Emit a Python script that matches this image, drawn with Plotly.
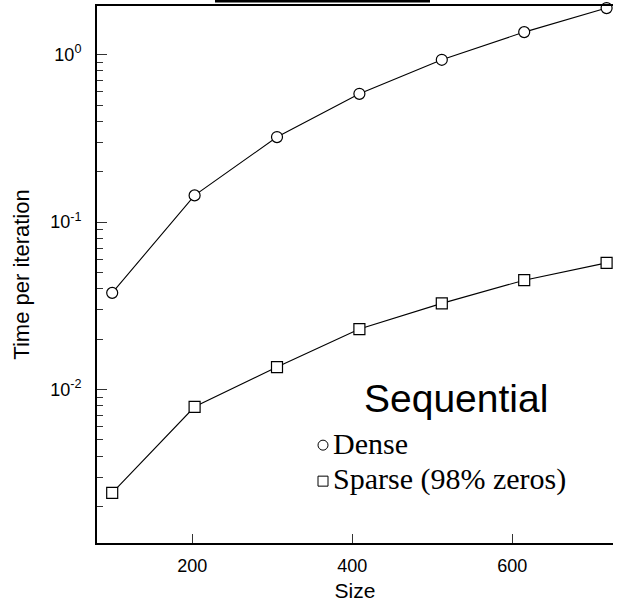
import plotly.graph_objects as go

# Data
sizes = [100, 203, 306, 409, 512, 615, 718]
dense_time = [0.0378, 0.1443, 0.3217, 0.583, 0.931, 1.362, 1.895]
sparse_time = [0.00242, 0.00789, 0.01362, 0.02297, 0.0327, 0.0450, 0.0571]
series_names = ["Dense", "Sparse (98% zeros)"]
x_tick_vals = [200, 400, 600]
y_tick_vals = [0.01, 0.1, 1]
y_tick_text = ["10<sup>-2</sup>", "10<sup>-1</sup>", "10<sup>0</sup>"]

SANS = "Arial, Liberation Sans, sans-serif"
SERIF = "Times New Roman, Liberation Serif, serif"

fig = go.Figure()
fig.add_trace(go.Scatter(
    x=sizes, y=dense_time, mode="lines+markers", name=series_names[0],
    line=dict(color="black", width=1.1),
    marker=dict(symbol="circle", size=11, color="white", line=dict(color="black", width=1.2)),
    cliponaxis=False, showlegend=False))
fig.add_trace(go.Scatter(
    x=sizes, y=sparse_time, mode="lines+markers", name=series_names[1],
    line=dict(color="black", width=1.1),
    marker=dict(symbol="square", size=11, color="white", line=dict(color="black", width=1.2)),
    cliponaxis=False, showlegend=False))

minor_vals = [k * 10.0 ** e for e in range(-3, 1) for k in range(2, 10)]

fig.update_layout(
    width=617, height=609,
    margin=dict(l=97, r=4, t=6, b=66),
    paper_bgcolor="white", plot_bgcolor="white",
    showlegend=False,
    xaxis=dict(
        range=[81, 726], tickmode="array", tickvals=x_tick_vals,
        ticks="inside", ticklen=9, tickwidth=1.2, tickcolor="#333",
        showline=True, linecolor="black", linewidth=2, mirror=True,
        showgrid=False, zeroline=False,
        tickfont=dict(family=SANS, size=18, color="black"),
        ticklabelstandoff=5,
        title=dict(text="Size", font=dict(family=SANS, size=21, color="black"), standoff=9),
    ),
    yaxis=dict(
        type="log", range=[-2.916, 0.290],
        tickmode="array", tickvals=y_tick_vals, ticktext=y_tick_text,
        ticks="inside", ticklen=10, tickwidth=1.2, tickcolor="#333",
        minor=dict(tickmode="array", tickvals=minor_vals, ticks="inside",
                   ticklen=6, tickwidth=1.2, tickcolor="#333", showgrid=False),
        showline=True, linecolor="black", linewidth=2, mirror=False,
        showgrid=False, zeroline=False,
        tickfont=dict(family=SANS, size=18, color="black"),
        ticklabelstandoff=10,
        title=dict(text="Time per iteration", font=dict(family=SANS, size=22, color="black"), standoff=14),
    ),
)

# Title-like text and custom legend
fig.add_annotation(x=(456 - 97) / 516, y=(543 - 398) / 537, xref="paper", yref="paper",
                   text="Sequential", showarrow=False,
                   font=dict(family=SANS, size=39, color="black"),
                   xanchor="center", yanchor="middle")
legend_rows = [(443, "circle"), (479, "square")]
for (ypx, sym), name in zip(legend_rows, series_names):
    yp = (543 - ypx) / 537
    fig.add_annotation(x=(331 - 97) / 516, y=yp, xref="paper", yref="paper",
                       text=name, showarrow=False,
                       font=dict(family=SERIF, size=30, color="black"),
                       xanchor="left", yanchor="middle")
    cx = (323 - 97) / 516
    hw = 5 / 516
    hh = 5 / 537
    fig.add_shape(type="circle" if sym == "circle" else "rect",
                  xref="paper", yref="paper",
                  x0=cx - hw, x1=cx + hw, y0=yp - hh - 0.004, y1=yp + hh - 0.004,
                  line=dict(color="black", width=1), fillcolor="white")

# Cropped heavy rule at the very top of the picture
fig.add_shape(type="rect", xref="paper", yref="paper",
              x0=(215 - 97) / 516, x1=(430 - 97) / 516,
              y0=1 + (6 - 2.5) / 537, y1=1 + 6 / 537 + 0.01,
              line=dict(width=0), fillcolor="black")

fig.write_html("out.html", config={"displayModeBar": False},
               post_script="document.body.style.margin='0';")
